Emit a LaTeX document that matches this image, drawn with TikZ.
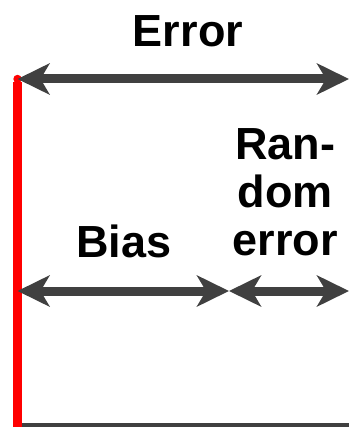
\documentclass[tikz,border=0pt]{standalone}
\usepackage{fontspec}
\setmainfont{Liberation Sans}
\usetikzlibrary{arrows.meta,positioning}
\definecolor{Shaft}{HTML}{404040}
\definecolor{Axis}{HTML}{FF0000}
\tikzset{span/.style={{Stealth[length=32pt,width=31pt,inset=9pt]}-{Stealth[length=32pt,width=31pt,inset=9pt]},
    line width=9pt,draw=Shaft},
  tag/.style={font=\bfseries\fontsize{45}{48}\selectfont,inner sep=0pt,anchor=base,align=center},
  axis/.style={line width=8.4pt,draw=Axis,line cap=round}}

\begin{document}
\begin{tikzpicture}[x=1pt,y=-1pt]
        \useasboundingbox (0,0) rectangle (349,427);
        % reference axis and base line
        \coordinate (o) at (17.5,427);
        \coordinate (o top) at (17.5,79);
        \coordinate (o mid) at (17.5,291);
        \coordinate (split) at (229,291);
        \coordinate (end top) at (349,79);
        \coordinate (end mid) at (349,291);
        \draw[Shaft,line width=4.5pt] (21,425)--(349,425);
        \draw[axis,line cap=butt] (o)--(17.5,82);
        \fill[Axis] (o top) circle (4.2pt);
        % spans
        \draw[span] (o top)--(end top);
        \draw[span] (o mid)--(split);
        \draw[span] (split)--(end mid);
        \node[tag] (err) at (188,47) {Error};
        \node[tag] (bias) at (124,257) {Bias};
        \node[tag] (rand) at (285,255) {Ran-\\dom\\error};
      \end{tikzpicture}
\end{document}
